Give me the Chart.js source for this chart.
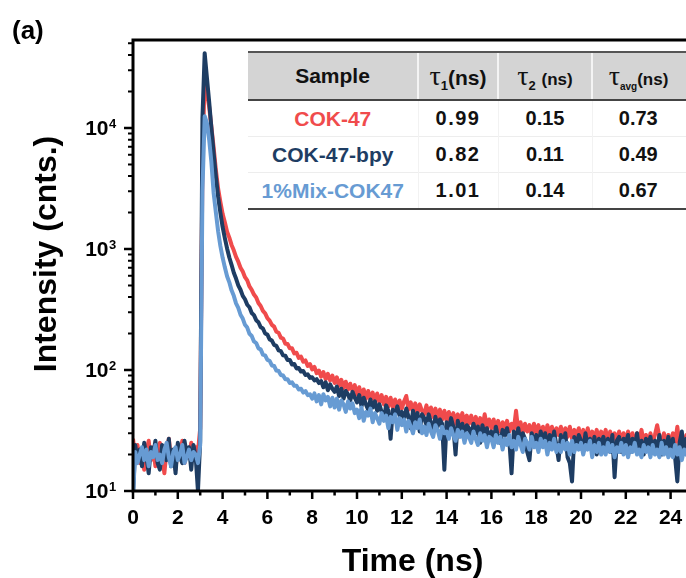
<!DOCTYPE html>
<html><head><meta charset="utf-8">
<script src="https://cdn.jsdelivr.net/npm/chart.js@4.4.1/dist/chart.umd.min.js"></script>
<style>
html,body{margin:0;padding:0;overflow:hidden;background:#fff;width:686px;height:578px;}
#wrap{position:relative;width:686px;height:578px;overflow:hidden;}
#c{position:absolute;left:0;top:0;}
#tbl{position:absolute;left:248px;top:51px;width:442px;border-collapse:collapse;table-layout:fixed;
 font-family:"Liberation Sans",Arial,sans-serif;font-weight:bold;background:#fff;color:#111;}
#tbl th{background:#d4d4d4;height:46px;padding:0;font-size:21px;text-align:center;vertical-align:middle;
 border-top:2px solid #555;border-bottom:2px solid #444;border-left:2px solid #f4f4f4;}
#tbl th:first-child{border-left:none;}
#tbl td{height:35px;padding:0;font-size:20px;text-align:center;vertical-align:middle;
 border-top:1px solid #ededed;border-left:1px solid #f2f2f2;}
#tbl td:first-child{border-left:none;font-size:21px;}
#tbl tr:last-child td{border-bottom:2px solid #444;}
#tbl td.t1{letter-spacing:1.5px;}
.tau{font-family:"Liberation Serif","DejaVu Serif",serif;font-weight:normal;font-size:28px;}
.sub{font-size:13px;position:relative;top:5px;}
.subs{font-size:10px;position:relative;top:5px;}
.ns2{font-size:17px;}
</style></head>
<body>
<div id="wrap">
<canvas id="c" width="700" height="578"></canvas>
<table id="tbl">
<colgroup><col style="width:170px"><col style="width:80px"><col style="width:94px"><col style="width:98px"></colgroup>
<thead><tr>
<th>Sample</th>
<th><span class="tau">τ</span><span class="sub">1</span>(ns)</th>
<th><span class="tau">τ</span><span class="sub">2</span> <span class="ns2">(ns)</span></th>
<th style="padding-right:6px"><span class="tau">τ</span><span class="subs">avg</span><span class="ns2">(ns)</span></th>
</tr></thead>
<tbody id="tb"></tbody>
</table>
</div>
<script>
// ---------- data ----------
const sampleNames = ['COK-47', 'COK-47-bpy', '1%Mix-COK47'];
const tau1 = ['0.99', '0.82', '1.01'];
const tau2 = ['0.15', '0.11', '0.14'];
const tauAvg = ['0.73', '0.49', '0.67'];
const seriesColors = ['#f04b4c', '#1e3d63', '#679bd3'];

const xMajorTicks = [0, 2, 4, 6, 8, 10, 12, 14, 16, 18, 20, 22, 24];
const xMinorTicks = [1, 3, 5, 7, 9, 11, 13, 15, 17, 19, 21, 23];
const yMajorTicks = [10, 100, 1000, 10000];
const yTickExponents = ['1', '2', '3', '4'];
const yMinorTicks = [20,30,40,50,60,70,80,90,200,300,400,500,600,700,800,900,
  2000,3000,4000,5000,6000,7000,8000,9000,20000,30000,40000,50000];

const times = [
 0.0,0.1,0.2,0.3,0.4,0.5,0.6,0.7,0.8,0.9, 1.0,1.1,1.2,1.3,1.4,1.5,1.6,1.7,1.8,1.9,
 2.0,2.1,2.2,2.3,2.4,2.5,2.6,2.7,2.8,2.9, 3.0,3.1,3.2,3.3,3.4,3.5,3.6,3.7,3.8,3.9,
 4.0,4.1,4.2,4.3,4.4,4.5,4.6,4.7,4.8,4.9, 5.0,5.1,5.2,5.3,5.4,5.5,5.6,5.7,5.8,5.9,
 6.0,6.1,6.2,6.3,6.4,6.5,6.6,6.7,6.8,6.9, 7.0,7.1,7.2,7.3,7.4,7.5,7.6,7.7,7.8,7.9,
 8.0,8.1,8.2,8.3,8.4,8.5,8.6,8.7,8.8,8.9, 9.0,9.1,9.2,9.3,9.4,9.5,9.6,9.7,9.8,9.9,
 10.0,10.1,10.2,10.3,10.4,10.5,10.6,10.7,10.8,10.9, 11.0,11.1,11.2,11.3,11.4,11.5,11.6,11.7,11.8,11.9,
 12.0,12.1,12.2,12.3,12.4,12.5,12.6,12.7,12.8,12.9, 13.0,13.1,13.2,13.3,13.4,13.5,13.6,13.7,13.8,13.9,
 14.0,14.1,14.2,14.3,14.4,14.5,14.6,14.7,14.8,14.9, 15.0,15.1,15.2,15.3,15.4,15.5,15.6,15.7,15.8,15.9,
 16.0,16.1,16.2,16.3,16.4,16.5,16.6,16.7,16.8,16.9, 17.0,17.1,17.2,17.3,17.4,17.5,17.6,17.7,17.8,17.9,
 18.0,18.1,18.2,18.3,18.4,18.5,18.6,18.7,18.8,18.9, 19.0,19.1,19.2,19.3,19.4,19.5,19.6,19.7,19.8,19.9,
 20.0,20.1,20.2,20.3,20.4,20.5,20.6,20.7,20.8,20.9, 21.0,21.1,21.2,21.3,21.4,21.5,21.6,21.7,21.8,21.9,
 22.0,22.1,22.2,22.3,22.4,22.5,22.6,22.7,22.8,22.9, 23.0,23.1,23.2,23.3,23.4,23.5,23.6,23.7,23.8,23.9,
 24.0,24.1,24.2,24.3,24.4,24.5,24.6,24.7,24.8,24.9
];

const cok47 = [
 27,19,24,17,22,15,21,26,18,23, 16,20,25,19,14,22,27,18,21,15,
 24,20,26,17,22,19,25,18,23,21, 33,5000,27000,19500,15000,10200,6900,4500,3150,2450,
 1950,1660,1390,1240,1080,975,860,785,700,650, 585,550,490,460,420,398,358,338,308,294,
 268,256,236,228,207,203,185,182,165,164, 151,151,137,139,126,129,117,120,108,112,
 101,106,94,99,88,96,84,93,82,90, 78,87,74,83,71,80,69,77,67,75,
 63,72,60,69,58,67,57,65,55,64, 54,62,52,60,50,59,49,57,48,56,
 48,55,61,47,54,45,53,44,52,46, 43,51,42,49,41,48,40,47,39,46,
 38,45,37,44,36,43,37,44,35,42, 36,42,34,41,35,40,33,43,34,39,
 33,39,32,38,31,37,33,38,31,36, 32,46,31,37,30,36,31,35,29,36,
 30,35,29,34,28,35,29,34,28,33, 29,34,27,33,28,34,27,32,28,33,
 27,32,26,33,27,31,26,32,27,31, 26,32,25,31,27,30,25,31,26,30,
 25,31,26,30,24,30,25,32,25,29, 24,30,25,29,35,28,24,30,25,29,
 24,30,25,34,24,29,23,29,25,28
];

const cok47bpy = [
 9,24,18,22,16,25,19,14,23,20, 26,17,15,24,21,18,27,16,22,14,
 25,19,17,26,20,23,15,24,19,10, 26,12000,41500,26000,16500,10000,6200,4000,2700,2000,
 1520,1230,1010,850,740,635,570,500,460,410, 384,346,330,296,284,258,248,226,220,200,
 196,179,175,161,158,145,143,132,131,121, 121,111,112,103,104,97,98,91,92,86,
 87,82,84,78,81,72,79,68,76,70, 66,73,61,70,58,67,63,56,66,59,
 54,62,50,59,52,47,57,49,55,46, 52,45,40,51,46,27,47,43,50,42,
 45,39,48,41,33,46,38,44,31,43, 40,35,43,37,30,41,34,39,36,15,
 37,32,40,34,20,38,31,36,29,35, 33,28,36,30,34,25,35,29,33,27,
 31,27,34,28,25,32,29,33,26,14, 31,26,33,25,30,27,21,18,30,25,
 29,24,31,26,30,22,29,25,31,24, 18,29,23,30,19,17,12,28,23,29,
 26,22,30,23,27,21,28,20,27,24, 28,22,27,21,29,13,26,28,21,27,
 25,29,21,27,23,30,22,26,20,27, 24,28,21,26,22,29,20,26,23,28,
 22,27,19,12,25,31,21,27,22,26
];

const mix1 = [
 9,21,17,20,23,18,22,16,21,19, 24,18,20,17,22,25,19,16,21,23,
 18,20,24,17,19,22,18,21,20,17, 24,3000,12500,11000,8000,5200,2900,2000,1400,1060,
 850,705,595,530,455,410,355,326,286,266, 236,224,199,191,172,167,151,148,134,132,
 121,119,109,108,99,98,91,90,84,84, 78,79,74,74,69,70,65,67,62,63,
 58,64,55,62,52,63,56,60,50,59, 49,58,47,56,52,45,55,48,53,44,
 47,40,49,38,45,42,48,37,44,40, 36,44,38,42,33,41,37,43,32,40,
 35,39,31,38,34,30,37,33,39,30, 34,29,36,31,28,35,32,27,34,30,
 31,27,33,29,26,32,28,31,25,30, 28,25,31,27,24,30,26,29,23,28,
 27,23,29,25,28,22,27,24,29,23, 26,22,28,24,21,27,25,22,28,23,
 25,21,27,23,26,20,25,22,27,21, 24,21,26,22,25,20,26,21,24,22,
 25,20,24,22,26,19,24,21,25,20, 23,20,25,21,24,19,23,21,25,20,
 24,19,23,21,25,20,22,19,24,21, 23,19,24,20,22,19,25,20,23,19,
 22,19,24,20,23,18,22,20,24,19
];

// ---------- table ----------
const tb = document.getElementById('tb');
sampleNames.forEach((n, i) => {
  const tr = document.createElement('tr');
  tr.innerHTML = '<td style="color:' + seriesColors[i] + '">' + n + '</td>' +
    '<td class="t1">' + tau1[i] + '</td><td>' + tau2[i] + '</td><td style="padding-right:6px">' + tauAvg[i] + '</td>';
  tb.appendChild(tr);
});

// ---------- chart ----------
const FONT = '"Liberation Sans", Arial, sans-serif';
const axisPlugin = {
  id: 'axisPlugin',
  afterDatasetsDraw(chart) {
    const { ctx, chartArea: a, scales: { x, y } } = chart;
    ctx.save();
    ctx.strokeStyle = '#000';
    ctx.fillStyle = '#000';
    ctx.lineCap = 'butt';
    ctx.lineWidth = 3;
    ctx.beginPath();
    ctx.moveTo(a.left - 1.5, a.top); ctx.lineTo(a.right, a.top);
    ctx.moveTo(a.left, a.top); ctx.lineTo(a.left, a.bottom);
    ctx.moveTo(a.left - 1.5, a.bottom); ctx.lineTo(a.right, a.bottom);
    ctx.stroke();
    ctx.lineWidth = 2.5;
    ctx.beginPath();
    xMajorTicks.forEach(v => { const p = x.getPixelForValue(v); ctx.moveTo(p, a.bottom); ctx.lineTo(p, a.bottom + 8); });
    xMinorTicks.forEach(v => { const p = x.getPixelForValue(v); ctx.moveTo(p, a.bottom); ctx.lineTo(p, a.bottom + 4.5); });
    yMajorTicks.forEach(v => { const p = y.getPixelForValue(v); ctx.moveTo(a.left, p); ctx.lineTo(a.left - 9, p); });
    ctx.stroke();
    ctx.lineWidth = 2;
    ctx.beginPath();
    yMinorTicks.forEach(v => { const p = y.getPixelForValue(v); ctx.moveTo(a.left, p); ctx.lineTo(a.left - 5, p); });
    ctx.stroke();
    ctx.font = 'bold 21px ' + FONT;
    ctx.textAlign = 'center';
    ctx.textBaseline = 'middle';
    xMajorTicks.forEach(v => ctx.fillText(String(v), x.getPixelForValue(v), a.bottom + 27));
    yMajorTicks.forEach((v, i) => {
      const p = y.getPixelForValue(v);
      ctx.font = 'bold 21px ' + FONT;
      ctx.textAlign = 'right';
      ctx.textBaseline = 'middle';
      ctx.fillText('10', a.left - 24.5, p + 1);
      ctx.font = 'bold 13px ' + FONT;
      ctx.textAlign = 'left';
      ctx.textBaseline = 'alphabetic';
      ctx.fillText(yTickExponents[i], a.left - 24, p);
    });
    ctx.font = 'bold 32px ' + FONT;
    ctx.textAlign = 'center';
    ctx.textBaseline = 'alphabetic';
    ctx.fillText('Time (ns)', 412.5, a.bottom + 80);
    ctx.save();
    ctx.translate(56, 254);
    ctx.rotate(-Math.PI / 2);
    ctx.fillText('Intensity (cnts.)', 0, 0);
    ctx.restore();
    ctx.font = 'bold 26px ' + FONT;
    ctx.textAlign = 'left';
    ctx.fillText('(a)', 12, 39);
    ctx.restore();
  }
};

const mk = (vals) => times.map((t, i) => ({ x: t, y: vals[i] }));
new Chart(document.getElementById('c').getContext('2d'), {
  type: 'line',
  data: {
    datasets: [
      { label: sampleNames[0], data: mk(cok47), borderColor: seriesColors[0], order: 3 },
      { label: sampleNames[1], data: mk(cok47bpy), borderColor: seriesColors[1], order: 2 },
      { label: sampleNames[2], data: mk(mix1), borderColor: seriesColors[2], order: 1 }
    ]
  },
  options: {
    responsive: false,
    animation: false,
    devicePixelRatio: 1,
    layout: { padding: { left: 133, top: 40, right: 7, bottom: 87 } },
    elements: {
      line: { borderWidth: 4, tension: 0, borderJoinStyle: 'round', fill: false },
      point: { radius: 0 }
    },
    plugins: { legend: { display: false }, tooltip: { enabled: false } },
    scales: {
      x: { type: 'linear', min: 0, max: 25, display: false },
      y: { type: 'logarithmic', min: 10, max: 53300, display: false }
    }
  },
  plugins: [axisPlugin]
});
</script>
</body></html>
